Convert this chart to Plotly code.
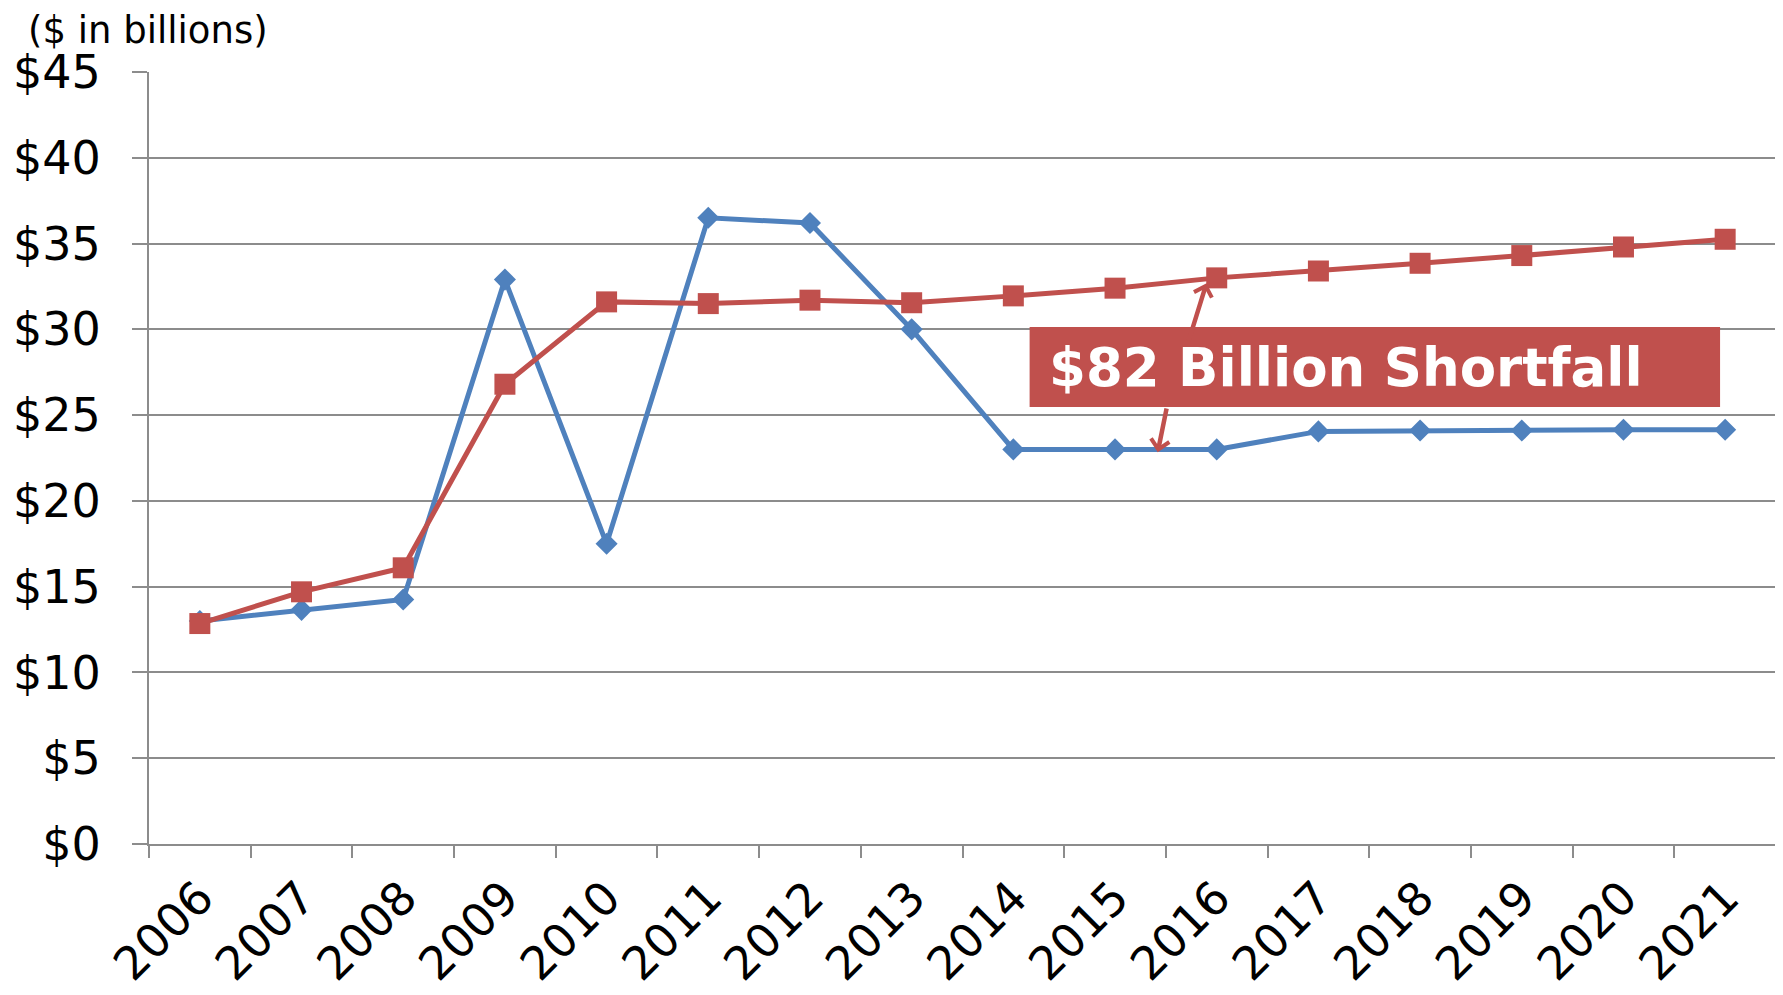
import plotly.graph_objects as go

years = ["2006", "2007", "2008", "2009", "2010", "2011", "2012", "2013",
         "2014", "2015", "2016", "2017", "2018", "2019", "2020", "2021"]
blue_values = [13.0, 13.65, 14.25, 32.9, 17.5, 36.5, 36.2, 30.0,
               23.0, 23.0, 23.0, 24.05, 24.1, 24.1, 24.15, 24.15]
red_values = [12.85, 14.7, 16.1, 26.8, 31.6, 31.5, 31.7, 31.55,
              31.95, 32.4, 33.0, 33.4, 33.85, 34.3, 34.8, 35.25]
y_ticks = [0, 5, 10, 15, 20, 25, 30, 35, 40, 45]
y_labels = ["$" + str(v) for v in y_ticks]

BLUE = "#4F81BD"
RED = "#C0504D"
GRID = "#8C8C8C"
FONT = "DejaVu Sans"

fig = go.Figure()
fig.add_trace(go.Scatter(
    x=years, y=blue_values, mode="lines+markers",
    line=dict(color=BLUE, width=5),
    marker=dict(symbol="diamond", size=17, color=BLUE),
    showlegend=False, hoverinfo="skip"))
fig.add_trace(go.Scatter(
    x=years, y=red_values, mode="lines+markers",
    line=dict(color=RED, width=5),
    marker=dict(symbol="square", size=21, color=RED),
    showlegend=False, hoverinfo="skip"))

# Shortfall box
fig.add_shape(type="rect", xref="x", yref="y",
              x0=8.16, x1=14.95, y0=25.47, y1=30.13,
              fillcolor=RED, line=dict(width=0), layer="above")
fig.add_annotation(xref="x", yref="y", x=8.33, y=27.75,
                   text="<b>$82 Billion Shortfall</b>", showarrow=False,
                   xanchor="left", yanchor="middle",
                   font=dict(family=FONT, size=53, color="white"))
# Arrows
fig.add_annotation(xref="x", yref="y", axref="x", ayref="y",
                   x=9.90, y=32.69, ax=9.72, ay=29.25, text="",
                   showarrow=True, arrowhead=4, arrowsize=0.8,
                   arrowwidth=4.5, arrowcolor=RED)
fig.add_annotation(xref="x", yref="y", axref="x", ayref="y",
                   x=9.42, y=22.84, ax=9.51, ay=25.47, text="",
                   showarrow=True, arrowhead=4, arrowsize=0.8,
                   arrowwidth=4.5, arrowcolor=RED)

fig.add_annotation(xref="paper", yref="paper", x=-0.075, y=1.0829,
                   text="($ in billions)", showarrow=False,
                   xanchor="left", yanchor="top", borderpad=0,
                   font=dict(family=FONT, size=37, color="black"))

fig.update_layout(
    width=1775, height=987,
    margin=dict(l=141, r=7, t=64, b=151),
    paper_bgcolor="white", plot_bgcolor="white",
    font=dict(family=FONT, color="black"),
    xaxis=dict(
        type="category", range=[-0.5, 15.5], tickson="boundaries",
        ticks="outside", ticklen=12, tickwidth=2, tickcolor=GRID,
        showline=True, linecolor=GRID, linewidth=2, automargin=False,
        showgrid=False, tickangle=-45, ticklabelstandoff=6,
        tickfont=dict(family=FONT, size=46, color="black")),
    yaxis=dict(
        range=[0, 45], tickvals=y_ticks, ticktext=y_labels,
        ticks="outside", ticklen=15, tickwidth=2, tickcolor=GRID,
        showline=True, linecolor=GRID, linewidth=2, automargin=False,
        showgrid=True, gridcolor=GRID, gridwidth=2,
        zeroline=False, ticklabelstandoff=22,
        tickfont=dict(family=FONT, size=46, color="black")),
)

fig.write_html("out.html")
